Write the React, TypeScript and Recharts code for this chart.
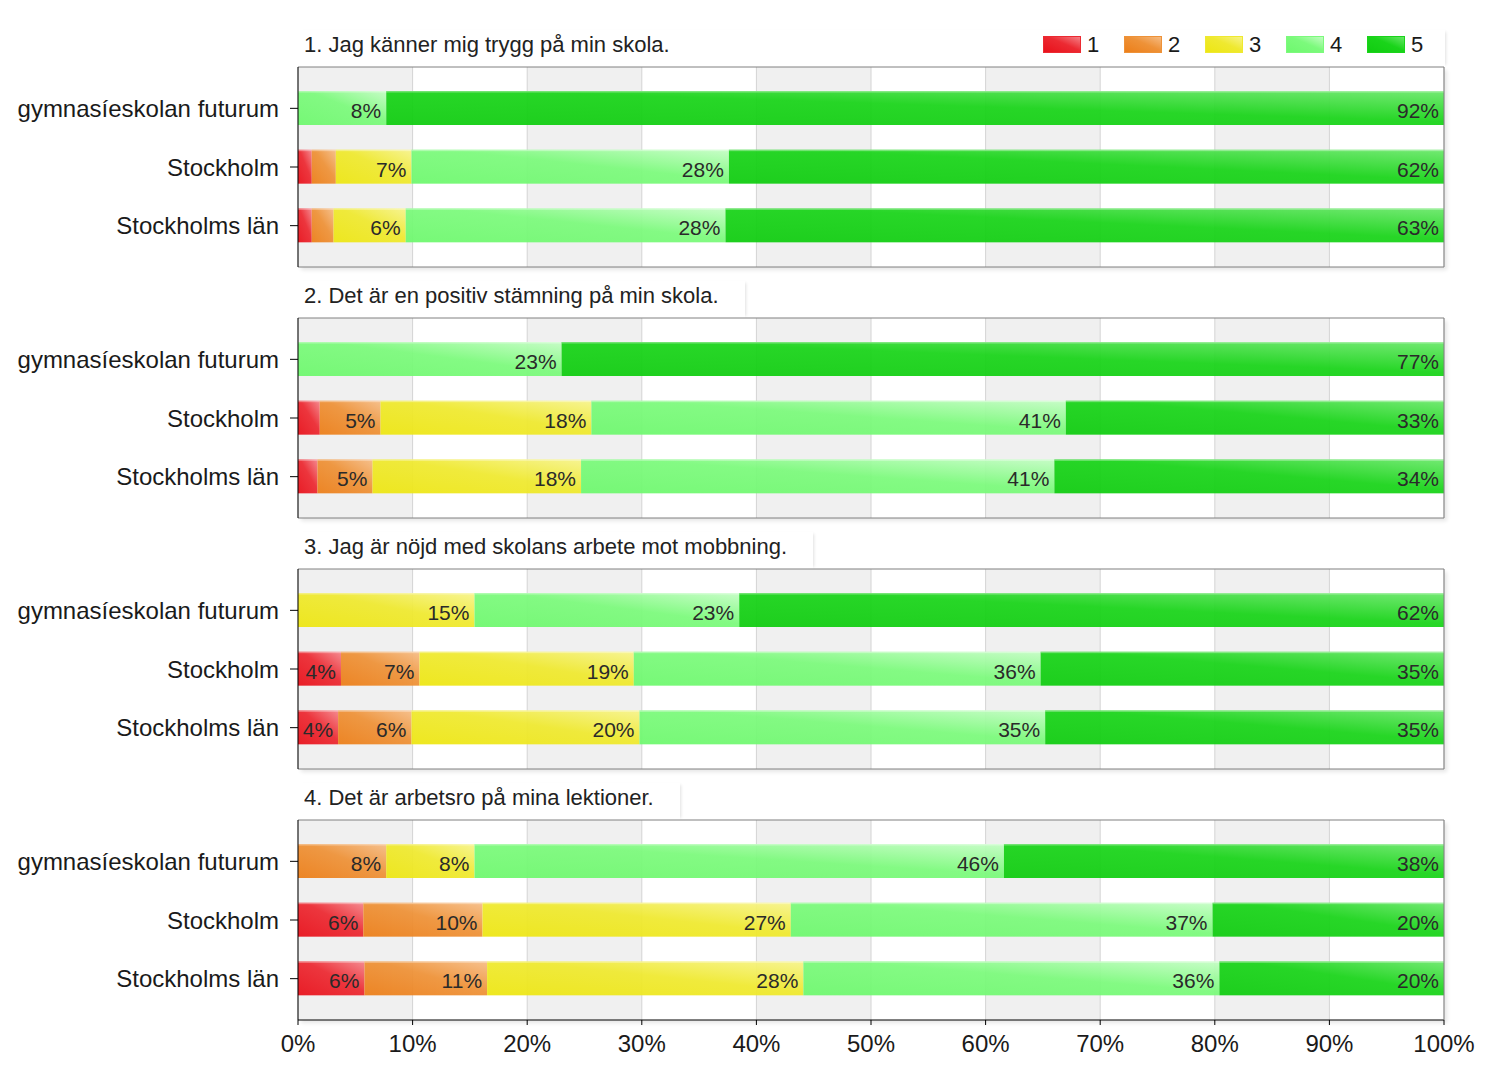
import React from 'react';
import { BarChart, Bar, XAxis, YAxis, CartesianGrid, LabelList, Legend } from 'recharts';

const categories = ['gymnasíeskolan futurum', 'Stockholm', 'Stockholms län'];
const questions = [
  '1. Jag känner mig trygg på min skola.',
  '2. Det är en positiv stämning på min skola.',
  '3. Jag är nöjd med skolans arbete mot mobbning.',
  '4. Det är arbetsro på mina lektioner.',
];
const answerLabels = ['1', '2', '3', '4', '5'];
// values per category row: shares of answers 1..5 (%)
const q1Values = [[0, 0, 0, 7.7, 92.3], [1.2, 2.1, 6.6, 27.7, 62.4], [1.2, 1.9, 6.3, 27.9, 62.7]];
const q2Values = [[0, 0, 0, 23.0, 77.0], [1.9, 5.3, 18.4, 41.4, 33.0], [1.7, 4.8, 18.2, 41.3, 34.0]];
const q3Values = [[0, 0, 15.4, 23.1, 61.5], [3.75, 6.85, 18.7, 35.5, 35.2], [3.5, 6.4, 19.9, 35.4, 34.8]];
const q4Values = [[0, 7.7, 7.7, 46.2, 38.4], [5.7, 10.4, 26.9, 36.8, 20.2], [5.8, 10.7, 27.6, 36.3, 19.6]];
const xTicks = [0, 10, 20, 30, 40, 50, 60, 70, 80, 90, 100];

const panelValues = [q1Values, q2Values, q3Values, q4Values];
const seriesKeys = ['a1', 'a2', 'a3', 'a4', 'a5'];

const COLORS = [
  { base: '#e8101a', mid: '#ec2a32', light: '#f5848a' },
  { base: '#ec7e18', mid: '#ee9238', light: '#f6bd86' },
  { base: '#ede612', mid: '#efe930', light: '#f7f48c' },
  { base: '#6ef86e', mid: '#7cfa7c', light: '#c4fdc4' },
  { base: '#10cc10', mid: '#1ad41a', light: '#6ae86a' },
];

const FONT = '"Liberation Sans", Arial, Helvetica, sans-serif';
const PLOT_TOP = [67, 318, 569, 820];
const PLOT_LEFT = 298;
const PLOT_WIDTH = 1146;
const PLOT_HEIGHT = 200;

const buildRows = (vals: number[][]) =>
  categories.map((name, i) => {
    const row: any = { name };
    seriesKeys.forEach((k, j) => {
      row[k] = vals[i][j];
    });
    return row;
  });

const SegmentShape = (props: any) => {
  const { x, y, width, height, fill } = props;
  if (!(width > 0.3) || !(height > 0)) return <g />;
  return (
    <g>
      <rect x={x} y={y} width={width} height={height} fill={fill} fillOpacity={0.94} />
      <rect x={x} y={y} width={width} height={1.5} fill="#ffffff" fillOpacity={0.35} />
    </g>
  );
};

const EmptyTick = () => <g />;

const renderSegmentLabel = (props: any) => {
  const vb = props.viewBox || {};
  const x = props.x ?? vb.x;
  const y = props.y ?? vb.y;
  const width = props.width ?? vb.width;
  const height = props.height ?? vb.height;
  const value = Number(props.value);
  if (!(value >= 3)) return null;
  return (
    <text
      x={x + width - 5}
      y={y + height / 2 + 10}
      textAnchor="end"
      fontSize={21}
      fontFamily={FONT}
      fill="#2a2a2a"
    >
      {Math.round(value)}%
    </text>
  );
};

const LegendContent = (props: any) => {
  const payload = props.payload || [];
  return (
    <div style={{ display: 'flex', flexDirection: 'row', fontFamily: FONT }}>
      {payload.map((entry: any, i: number) => {
        const c = COLORS[i % COLORS.length];
        return (
          <div key={i} style={{ display: 'flex', alignItems: 'center', width: 81, height: 17 }}>
            <svg width={38} height={17} style={{ display: 'block' }}>
              <defs>
                <linearGradient id={`lg-${i}`} x1="0" y1="1" x2="1" y2="0">
                  <stop offset="0" stopColor={c.base} />
                  <stop offset="0.55" stopColor={c.mid} />
                  <stop offset="1" stopColor={c.light} />
                </linearGradient>
              </defs>
              <rect x={0.5} y={0.5} width={37} height={16} fill={`url(#lg-${i})`} stroke={c.mid} strokeWidth={1} />
            </svg>
            <span style={{ marginLeft: 6, fontSize: 22, color: '#1a1a1a', lineHeight: '17px' }}>{entry.value}</span>
          </div>
        );
      })}
    </div>
  );
};

function Panel({ idx }: { idx: number }) {
  const rows = buildRows(panelValues[idx]);
  const isLast = idx === panelValues.length - 1;
  const isFirst = idx === 0;
  const axisHeight = isLast ? 50 : 1;
  return (
    <BarChart
      width={1500}
      height={1 + PLOT_HEIGHT + axisHeight}
      data={rows}
      layout="vertical"
      margin={{ top: 0, right: 55, bottom: 0, left: 0 }}
      barSize={34}
      style={{ fontFamily: FONT }}
    >
      <defs>
        {COLORS.map((c, k) => (
          <linearGradient key={k} id={`g${idx}-${k}`} x1="0" y1="1" x2="1" y2="0">
            <stop offset="0" stopColor={c.base} />
            <stop offset="0.55" stopColor={c.mid} />
            <stop offset="1" stopColor={c.light} />
          </linearGradient>
        ))}
      </defs>
      <CartesianGrid
        horizontal={false}
        stroke="#d4d4d4"
        verticalFill={['#f0f0f0', '#ffffff']}
        fillOpacity={1}
      />
      <XAxis
        type="number"
        domain={[0, 100]}
        ticks={xTicks}
        interval={0}
        allowDataOverflow
        height={axisHeight}
        tick={isLast ? { fontSize: 24, fill: '#1a1a1a', fontFamily: FONT } : EmptyTick}
        tickLine={isLast ? { stroke: '#000' } : false}
        tickSize={5}
        tickMargin={10}
        axisLine={{ stroke: isLast ? '#000' : '#808080' }}
        tickFormatter={(v: number) => `${v}%`}
      />
      <XAxis
        xAxisId="frameTop"
        orientation="top"
        type="number"
        domain={[0, 100]}
        height={1}
        tick={EmptyTick}
        tickLine={false}
        axisLine={{ stroke: '#808080' }}
      />
      <YAxis
        type="category"
        dataKey="name"
        width={PLOT_LEFT}
        padding={{ top: 12, bottom: 12 }}
        tick={{ fontSize: 24, fill: '#1a1a1a', fontFamily: FONT }}
        tickLine={{ stroke: '#000' }}
        tickSize={8}
        tickMargin={11}
        axisLine={{ stroke: '#000' }}
      />
      <YAxis
        yAxisId="frameRight"
        orientation="right"
        type="category"
        dataKey="name"
        width={1}
        tick={EmptyTick}
        tickLine={false}
        axisLine={{ stroke: '#808080' }}
      />
      {seriesKeys.map((k, j) => (
        <Bar
          key={k}
          dataKey={k}
          name={answerLabels[j]}
          stackId="s"
          fill={`url(#g${idx}-${j})`}
          shape={(p: any) => <SegmentShape {...p} />}
          isAnimationActive={false}
        >
          <LabelList dataKey={k} content={renderSegmentLabel} />
        </Bar>
      ))}
      {isFirst && (
        <Legend
          layout="horizontal"
          verticalAlign="middle"
          align="center"
          content={(p: any) => <LegendContent {...p} />}
          wrapperStyle={{ position: 'absolute', left: 1043, top: -30, width: 420, height: 17 }}
        />
      )}
    </BarChart>
  );
}

export default function App() {
  return (
    <div
      style={{
        position: 'absolute',
        left: 0,
        top: 0,
        width: 1500,
        height: 1075,
        background: '#ffffff',
        fontFamily: FONT,
        overflow: 'hidden',
      }}
    >
      {PLOT_TOP.map((t, i) => (
        <div
          key={`s${i}`}
          style={{
            position: 'absolute',
            left: PLOT_LEFT,
            top: t,
            width: PLOT_WIDTH,
            height: PLOT_HEIGHT,
            boxShadow: '3px 3px 4px rgba(0,0,0,0.10)',
          }}
        />
      ))}
      {questions.map((q, i) => (
        <div
          key={`t${i}`}
          style={{
            position: 'absolute',
            left: PLOT_LEFT,
            top: PLOT_TOP[i] - 37,
            height: 37,
            width: i === 0 ? 1147 : undefined,
            boxSizing: 'border-box',
            paddingLeft: 6,
            paddingRight: 26,
            background: '#fff',
            boxShadow: '3px 0 3px -2px rgba(0,0,0,0.12)',
            fontSize: 22,
            lineHeight: '30px',
            color: '#222',
            whiteSpace: 'nowrap',
          }}
        >
          {q}
        </div>
      ))}
      {PLOT_TOP.map((t, i) => (
        <div key={`p${i}`} style={{ position: 'absolute', left: 0, top: t - 1 }}>
          <Panel idx={i} />
        </div>
      ))}
    </div>
  );
}
